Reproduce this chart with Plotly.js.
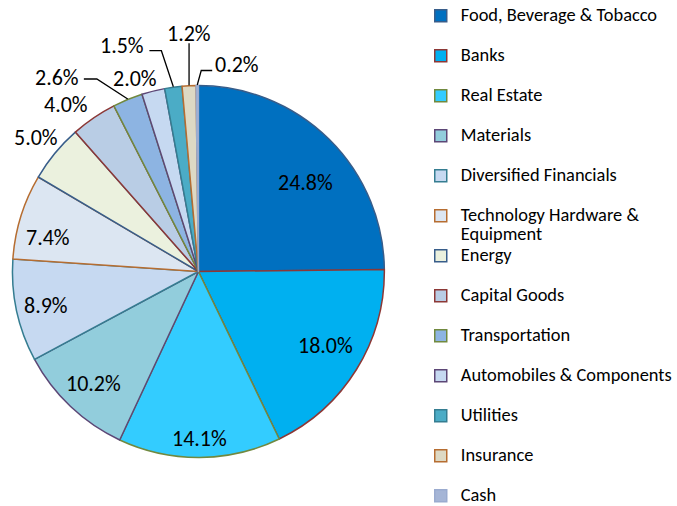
<!DOCTYPE html>
<html>
<head>
<meta charset="utf-8">
<script src="https://cdn.plot.ly/plotly-3.0.1.min.js"></script>
<style>
  html, body { margin: 0; padding: 0; width: 677px; height: 506px; overflow: hidden; background: #fff; }
  #wrap { width: 677px; height: 506px; overflow: hidden; position: relative; }
  #chart { width: 677px; height: 540px; }
</style>
</head>
<body>
<div id="wrap"><div id="chart"></div></div>
<script>
// ---- data ----
var categories = [
  "Food, Beverage & Tobacco", "Banks", "Real Estate", "Materials",
  "Diversified Financials", "Technology Hardware &<br>Equipment", "Energy",
  "Capital Goods", "Transportation", "Automobiles & Components",
  "Utilities", "Insurance", "Cash"
];
var weights = [24.8, 18.0, 14.1, 10.2, 8.9, 7.4, 5.0, 4.0, 2.6, 2.0, 1.5, 1.2, 0.2];
var percentLabels = ["24.8%", "18.0%", "14.1%", "10.2%", "8.9%", "7.4%", "5.0%", "4.0%", "2.6%", "2.0%", "1.5%", "1.2%", "0.2%"];

// ---- styles / layout constants ----
var W = 677, H = 540;
var CX = 199, CY = 271.5, R = 186.5;          // pie centre and radius in px
var fillColors = ["#0070C0", "#00B0F0", "#33CCFF", "#92CDDC", "#C6D9F1", "#DCE6F2",
  "#EBF1DE", "#B9CDE5", "#8DB4E2", "#C6D9F1", "#4BACC6", "#DDD9C4", "#A5B5D6"];
var lineColors = ["#385D8A", "#8C3836", "#71893F", "#5C4776", "#357D91", "#B66D31",
  "#385D8A", "#8C3836", "#71893F", "#5C4776", "#357D91", "#B66D31", "#9AABCF"];
// label placement per slice: inside labels -> radius factor (+ angle nudge, deg);
// outside labels -> offset from the slice's arc midpoint, with optional leader line
var labelStyle = [
  { r: 0.75, da: 5.5 }, { r: 0.785, da: -2 }, { r: 0.89, da: 0 }, { r: 0.82, da: 0 },
  { r: 0.84, da: 0 }, { r: 0.83, da: -4.2 },
  { dx: -19, dy: -16 },
  { dx: -28, dy: -13.5 },
  { dx: -71, dy: -23, lead: [[-31, -20], [-44, -20]] },
  { dx: -18, dy: -13 },
  { dx: -51, dy: -42, lead: [[-12, -36], [-24, -36]] },
  { dx: 0, dy: -52.5, lead: [[0, -42]] },
  { dx: 40, dy: -22, lead: [[4, -14.5], [15, -14.5]] }
];

var FONT = "Carlito, Lato, 'Liberation Sans', sans-serif";
var LEG_SPAN = '<span style="font-size:18.4px">';

var legendNames = categories.map(function (c) {
  var parts = c.split('<br>').map(function (p) { return LEG_SPAN + p + '</span>'; });
  if (parts.length === 1) parts.push(' ');
  return parts.join('<br>');
});

function px2paper(x, y) { return [x / W, 1 - y / H]; }

var total = weights.reduce(function (a, b) { return a + b; }, 0);
var annotations = [], shapes = [];
var cum = 0;
weights.forEach(function (v, i) {
  var st = labelStyle[i];
  var theta = (cum + v / 2) / total * 2 * Math.PI;
  cum += v;
  var lx, ly;
  if (st.r !== undefined) {
    var t2 = theta + (st.da || 0) * Math.PI / 180;
    lx = CX + st.r * R * Math.sin(t2); ly = CY - st.r * R * Math.cos(t2);
  } else {
    var ax = CX + R * Math.sin(theta), ay = CY - R * Math.cos(theta);
    lx = ax + st.dx; ly = ay + st.dy;
    if (st.lead) {
      var p0 = px2paper(ax, ay);
      var d = 'M' + p0[0] + ',' + p0[1];
      st.lead.forEach(function (o) {
        var p = px2paper(ax + o[0], ay + o[1]);
        d += ' L' + p[0] + ',' + p[1];
      });
      shapes.push({ type: 'path', xref: 'paper', yref: 'paper', path: d,
        line: { color: '#000', width: 1.3 }, layer: 'above' });
    }
  }
  var pp = px2paper(lx, ly + 1);
  annotations.push({
    xref: 'paper', yref: 'paper', x: pp[0], y: pp[1],
    xanchor: 'center', yanchor: 'middle', showarrow: false,
    text: percentLabels[i],
    font: { family: FONT, size: 22, color: '#000' }
  });
});

var trace = {
  type: 'pie',
  labels: legendNames,
  values: weights,
  textinfo: 'none',
  sort: false,
  direction: 'clockwise',
  rotation: 0,
  marker: { colors: fillColors, line: { color: lineColors, width: 1.5 } },
  domain: { x: [(CX - R) / W, (CX + R) / W], y: [(H - CY - R) / H, (H - CY + R) / H] },
  hoverinfo: 'label+percent'
};

var layout = {
  width: W,
  height: H,
  margin: { l: 0, r: 0, t: 0, b: 0, pad: 0 },
  paper_bgcolor: '#fff',
  showlegend: true,
  font: { family: FONT, color: '#000' },
  annotations: annotations,
  shapes: shapes,
  legend: {
    x: 422 / W, xanchor: 'left',
    y: 1, yanchor: 'top',
    valign: 'top',
    font: { family: FONT, size: 14.23, color: '#000' },
    bgcolor: 'rgba(0,0,0,0)',
    borderwidth: 0
  }
};

Plotly.newPlot('chart', [trace], layout, { displayModeBar: false, staticPlot: true });
</script>
</body>
</html>
